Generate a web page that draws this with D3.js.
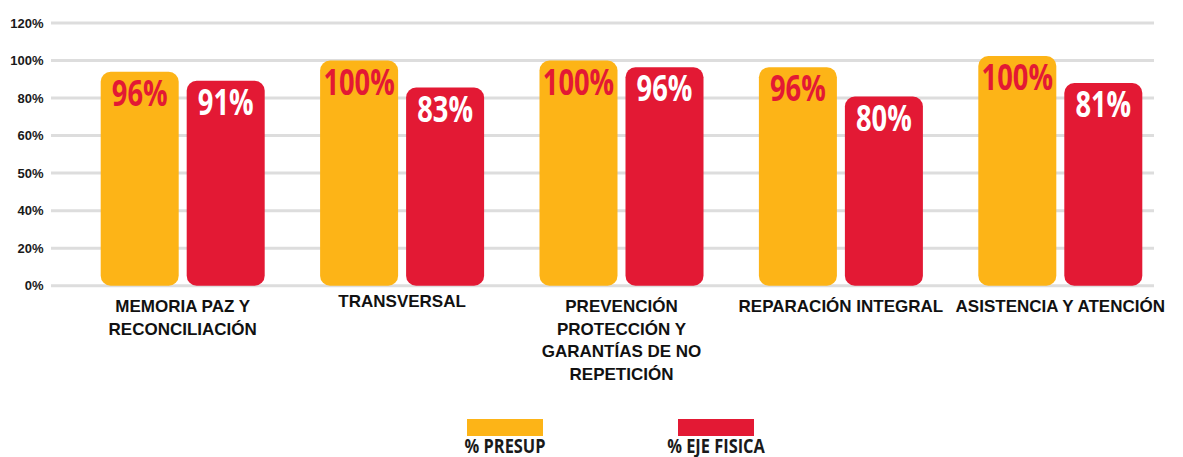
<!DOCTYPE html>
<html>
<head>
<meta charset="utf-8">
<script src="https://cdn.jsdelivr.net/npm/d3@7/dist/d3.min.js"></script>
<style>
  html, body { margin: 0; padding: 0; background: #ffffff; }
  svg { display: block; }
</style>
</head>
<body>
<div id="chart"></div>
<script>
// ---- data ----
const categories = [
  "MEMORIA PAZ Y\nRECONCILIACIÓN",
  "TRANSVERSAL",
  "PREVENCIÓN\nPROTECCIÓN Y\nGARANTÍAS DE NO\nREPETICIÓN",
  "REPARACIÓN INTEGRAL",
  "ASISTENCIA Y ATENCIÓN"
];
const seriesNames = ["% PRESUP", "% EJE FISICA"];
// bar heights as drawn in the picture (percent of the 100% gridline)
const presupValues = [95, 100, 100, 97, 102];
const ejeFisicaValues = [91, 88, 97, 84, 90];
// value labels as printed on the bars
const presupLabels = ["96%", "100%", "100%", "96%", "100%"];
const ejeFisicaLabels = ["91%", "83%", "96%", "80%", "81%"];
// y-axis tick labels as printed (evenly spaced gridlines)
const yTickLabels = ["0%", "20%", "40%", "50%", "60%", "80%", "100%", "120%"];

// ---- layout ----
const W = 1183, H = 457;
const plotLeft = 51, plotRight = 1154;
const colors = ["#FDB417", "#E31934"];
const condensedFont = "'Open Sans', 'Noto Sans', sans-serif";
const condense = 0.78;
const sans = "'Liberation Sans', Arial, Helvetica, sans-serif";

const svg = d3.select("#chart").append("svg")
  .attr("width", W).attr("height", H);

// value scale: 0 -> baseline, 100 -> "100%" gridline
const y = d3.scaleLinear().domain([0, 100]).range([285.7, 60.5]);
// gridlines evenly spaced, one per printed tick label
const gridStep = (y(0) - y(100)) / 6;
const yGrid = d3.scaleLinear().domain([0, yTickLabels.length - 1])
  .range([y(0), y(0) - gridStep * (yTickLabels.length - 1)]);

const x0 = d3.scaleBand().domain(d3.range(categories.length))
  .range([73, 1170]);
const innerW = 164;
const x1 = d3.scaleBand().domain(d3.range(seriesNames.length))
  .range([0, innerW]).paddingInner(0.093);

// gridlines
svg.append("g").selectAll("line")
  .data(yTickLabels)
  .join("line")
  .attr("x1", plotLeft).attr("x2", plotRight)
  .attr("y1", (d, i) => yGrid(i)).attr("y2", (d, i) => yGrid(i))
  .attr("stroke", "#dddddd").attr("stroke-width", 3);

// y labels
svg.append("g").selectAll("text")
  .data(yTickLabels)
  .join("text")
  .attr("x", 43.5)
  .attr("y", (d, i) => yGrid(i))
  .attr("dy", "0.35em")
  .attr("text-anchor", "end")
  .attr("font-family", sans)
  .attr("font-weight", "bold")
  .attr("font-size", 13)
  .attr("fill", "#1a1a1a")
  .text(d => d);

// bars
const seriesValues = [presupValues, ejeFisicaValues];
const seriesLabels = [presupLabels, ejeFisicaLabels];
const labelColors = [colors[1], "#ffffff"];

const rows = [];
categories.forEach((c, ci) => {
  seriesNames.forEach((s, si) => {
    rows.push({ ci, si, v: seriesValues[si][ci], label: seriesLabels[si][ci] });
  });
});

const barX = d => x0(d.ci) + (x0.bandwidth() - innerW) / 2 + x1(d.si);

svg.append("g").selectAll("rect")
  .data(rows)
  .join("rect")
  .attr("x", barX)
  .attr("y", d => y(d.v))
  .attr("width", x1.bandwidth())
  .attr("height", d => y(0) - y(d.v))
  .attr("rx", 10).attr("ry", 10)
  .attr("fill", d => colors[d.si]);

svg.append("g").selectAll("text")
  .data(rows)
  .join("text")
  .attr("transform", d => `translate(${barX(d) + x1.bandwidth() / 2},${y(d.v) + 34}) scale(${condense},1)`)
  .attr("text-anchor", "middle")
  .attr("font-family", condensedFont)
  .attr("font-weight", "bold")
  .attr("font-size", 35)
  .attr("fill", d => labelColors[d.si])
  .text(d => d.label);

// category labels
const catG = svg.append("g").selectAll("text")
  .data(categories)
  .join("text")
  .attr("text-anchor", "middle")
  .attr("font-family", sans)
  .attr("font-weight", "bold")
  .attr("font-size", 17)
  .attr("fill", "#111111");
catG.each(function(d, i) {
  const cx = x0(i) + x0.bandwidth() / 2;
  const lines = d.split("\n");
  // single-line labels sit a little higher in the reference
  const top = lines.length === 1 && i === 1 ? 307 : 312;
  lines.forEach((line, li) => {
    d3.select(this).append("tspan")
      .attr("x", cx)
      .attr("y", top + li * 22.5)
      .text(line);
  });
});

// legend
const lx = d3.scalePoint().domain(seriesNames).range([505, 716]);
const leg = svg.append("g").selectAll("g")
  .data(seriesNames)
  .join("g")
  .attr("transform", d => `translate(${lx(d)},0)`);
leg.append("rect")
  .attr("x", -38).attr("y", 419).attr("width", 76).attr("height", 17)
  .attr("fill", (d, i) => colors[i]);
leg.append("text")
  .attr("transform", `translate(0,453) scale(0.82,1)`)
  .attr("text-anchor", "middle")
  .attr("font-family", condensedFont)
  .attr("font-weight", "bold")
  .attr("font-size", 20)
  .attr("fill", "#1a1a1a")
  .text(d => d);
</script>
</body>
</html>
